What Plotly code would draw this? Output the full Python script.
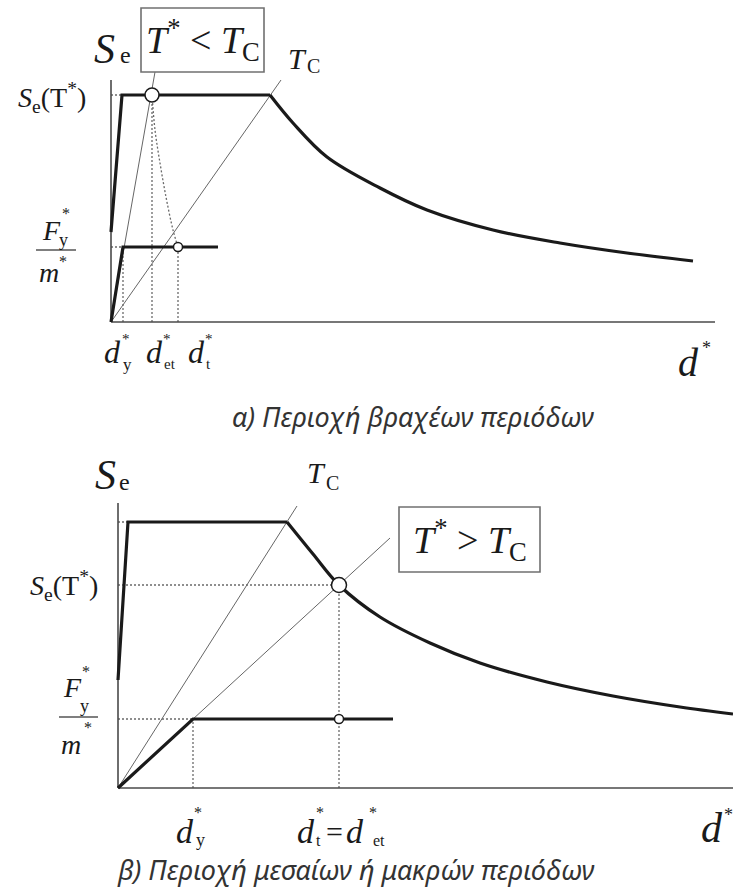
import plotly.graph_objects as go

W, H = 733, 888
SERIF = "Liberation Serif"
SANS = "Noto Sans"
INK = "#1a1a1a"
GREY = "#666666"
AXIS = "#4a4a4a"

# ---------------- panel (a): short periods, T* < TC ----------------
a_spec_d = [0.00, 0.11, 1.59]                      # rising branch + plateau
a_spec_se = [0.90, 2.27, 2.27]
a_decay_d = [1.59, 1.82, 2.16, 2.69, 3.16, 3.82, 4.49, 5.16, 5.82]
a_decay_se = [2.27, 1.99, 1.65, 1.34, 1.12, 0.92, 0.79, 0.69, 0.61]
a_cap_d = [0.00, 0.12, 1.07]                       # idealised bilinear capacity
a_cap_se = [0.00, 0.75, 0.75]
a_dy, a_det, a_dt = 0.12, 0.41, 0.67
a_se_t, a_fy = 2.27, 0.75
a_link_d = [0.41, 0.44, 0.49, 0.55, 0.62, 0.67]
a_link_se = [2.27, 1.92, 1.59, 1.25, 0.92, 0.75]
a_tstar_d, a_tstar_se = [0.00, 0.44], [0.00, 2.50]
a_tc_d, a_tc_se = [0.00, 1.70], [0.00, 2.42]
a_axis_d, a_axis_se = 6.04, 2.42
a_box = (0.30, 2.50, 1.53, 3.14)

# ---------------- panel (b): medium / long periods, T* > TC ----------------
b_spec_d = [0.00, 0.10, 1.69]
b_spec_se = [1.08, 2.66, 2.66]
b_decay_d = [1.69, 1.95, 2.21, 2.62, 3.12, 3.62, 4.29, 4.95, 5.62, 6.15]
b_decay_se = [2.66, 2.34, 2.03, 1.71, 1.45, 1.25, 1.06, 0.92, 0.81, 0.74]
b_cap_d = [0.00, 0.75, 2.75]
b_cap_se = [0.00, 0.69, 0.69]
b_dy, b_dt = 0.75, 2.21
b_se_t, b_fy, b_se_max = 2.03, 0.69, 2.66
b_tstar_d, b_tstar_se = [0.00, 2.72], [0.00, 2.50]
b_tc_d, b_tc_se = [0.00, 1.79], [0.00, 2.82]
b_axis_d, b_axis_se = 6.15, 2.85
b_box = (2.81, 2.16, 4.22, 2.81)

caption_a = "α) Περιοχή βραχέων περιόδων"
caption_b = "β) Περιοχή μεσαίων ή μακρών περιόδων"

fig = go.Figure()


def line(xs, ys, panel, color=INK, width=3.2, dash=None, shape="linear"):
    fig.add_trace(go.Scatter(
        x=xs, y=ys, mode="lines", xaxis="x" if panel == 1 else "x2",
        yaxis="y" if panel == 1 else "y2",
        line=dict(color=color, width=width, dash=dash, shape=shape),
        hoverinfo="skip"))


def dots(xs, ys, panel, shape="linear"):
    line(xs, ys, panel, color="#6a6a6a", width=1.3, dash="2px,2px", shape=shape)


def ring(x, y, panel, size):
    fig.add_trace(go.Scatter(
        x=[x], y=[y], mode="markers", xaxis="x" if panel == 1 else "x2",
        yaxis="y" if panel == 1 else "y2",
        marker=dict(symbol="circle", size=size, color="white",
                    line=dict(color=INK, width=1.5)),
        hoverinfo="skip"))


# panel (a)
dots([0, a_dy], [a_fy, a_fy], 1)
dots([a_dy, a_dy], [0, a_fy], 1)
dots([0, a_spec_d[1]], [a_se_t, a_se_t], 1)
dots([a_det, a_det], [0, a_se_t], 1)
dots([a_dt, a_dt], [0, a_fy], 1)
dots(a_link_d, a_link_se, 1, shape="spline")
line(a_tstar_d, a_tstar_se, 1, color=GREY, width=1)
line(a_tc_d, a_tc_se, 1, color=GREY, width=1)
line([0, 0], [0, a_axis_se], 1, color=AXIS, width=1.6)
line([0, a_axis_d], [0, 0], 1, color=AXIS, width=1.6)
line(a_spec_d, a_spec_se, 1)
line(a_decay_d, a_decay_se, 1, shape="spline")
line(a_cap_d, a_cap_se, 1)
ring(a_dt, a_fy, 1, 9)
ring(a_det, a_se_t, 1, 14)

# panel (b)
dots([0, b_spec_d[1]], [b_se_max, b_se_max], 2)
dots([0, b_dt], [b_se_t, b_se_t], 2)
dots([b_dt, b_dt], [0, b_se_t], 2)
dots([0, b_dy], [b_fy, b_fy], 2)
dots([b_dy, b_dy], [0, b_fy], 2)
line(b_tstar_d, b_tstar_se, 2, color=GREY, width=1)
line(b_tc_d, b_tc_se, 2, color=GREY, width=1)
line([0, 0], [0, b_axis_se], 2, color=AXIS, width=1.6)
line([0, b_axis_d], [0, 0], 2, color=AXIS, width=1.6)
line(b_spec_d, b_spec_se, 2)
line(b_decay_d, b_decay_se, 2, shape="spline")
line(b_cap_d, b_cap_se, 2)
ring(b_dt, b_fy, 2, 9)
ring(b_dt, b_se_t, 2, 15)

ann = []
shapes = []


def txt(x, y, s, size, panel, anchor="center", family=SERIF, color=INK, italic=False):
    if panel == 0:
        xref, yref = "paper", "paper"
    else:
        xref, yref = ("x", "y") if panel == 1 else ("x2", "y2")
    ann.append(dict(
        x=x, y=y, xref=xref, yref=yref,
        text=s, showarrow=False, xanchor=anchor, yanchor="middle",
        font=dict(family=family, size=size, color=color,
                  style="italic" if italic else "normal")))


def box(rect, panel):
    x0, y0, x1, y1 = rect
    shapes.append(dict(type="rect", xref="x" if panel == 1 else "x2",
                       yref="y" if panel == 1 else "y2", x0=x0, y0=y0, x1=x1, y1=y1,
                       line=dict(color="#707070", width=1.6), fillcolor="rgba(0,0,0,0)"))


def bar(x0, x1, y, panel):
    shapes.append(dict(type="line", xref="x" if panel == 1 else "x2",
                       yref="y" if panel == 1 else "y2", x0=x0, x1=x1, y0=y, y1=y,
                       line=dict(color="#555555", width=1.3)))


# ---- labels, panel (a)
txt(-0.07, 2.73, "S", 42, 1, italic=True)
txt(0.14, 2.67, "e", 24, 1)
txt(-0.23, 2.25, "<i>S</i><sub>e</sub>(T<sup>*</sup>)", 28, 1, anchor="right")
txt(1.86, 2.64, "T", 30, 1, italic=True)
txt(2.02, 2.56, "C", 20, 1)
box(a_box, 1)
txt((a_box[0] + a_box[2]) / 2, (a_box[1] + a_box[3]) / 2,
    "<i>T</i><sup>*</sup> &lt; <i>T</i><sub>C</sub>", 38, 1)
txt(-0.60, 0.92, "F", 28, 1, italic=True)
txt(-0.45, 1.09, "*", 16, 1)
txt(-0.48, 0.82, "y", 18, 1)
bar(-0.75, -0.35, 0.72, 1)
txt(-0.62, 0.50, "m", 28, 1, italic=True)
txt(-0.48, 0.61, "*", 16, 1)
# tick labels
txt(0.01, -0.30, "d", 32, 1, italic=True)
txt(0.15, -0.17, "*", 15, 1)
txt(0.16, -0.42, "y", 17, 1)
txt(0.43, -0.30, "d", 32, 1, italic=True)
txt(0.56, -0.17, "*", 15, 1)
txt(0.59, -0.42, "et", 15, 1)
txt(0.85, -0.30, "d", 32, 1, italic=True)
txt(0.98, -0.17, "*", 15, 1)
txt(0.97, -0.42, "t", 15, 1)
txt(5.77, -0.40, "d", 40, 1, italic=True)
txt(5.95, -0.26, "*", 18, 1)
txt(413 / W, 1 - 416 / H, caption_a, 27, 0, family=SANS, color="#333333", italic=True)

# ---- labels, panel (b)
txt(-0.13, 3.13, "S", 42, 2, italic=True)
txt(0.065, 3.06, "e", 24, 2)
txt(1.98, 3.16, "T", 30, 2, italic=True)
txt(2.14, 3.05, "C", 20, 2)
txt(-0.18, 2.03, "<i>S</i><sub>e</sub>(T<sup>*</sup>)", 28, 2, anchor="right")
box(b_box, 2)
txt((b_box[0] + b_box[2]) / 2, (b_box[1] + b_box[3]) / 2,
    "<i>T</i><sup>*</sup> &gt; <i>T</i><sub>C</sub>", 38, 2)
txt(-0.46, 1.01, "F", 28, 2, italic=True)
txt(-0.32, 1.17, "*", 16, 2)
txt(-0.34, 0.82, "y", 18, 2)
bar(-0.59, -0.20, 0.71, 2)
txt(-0.47, 0.44, "m", 28, 2, italic=True)
txt(-0.30, 0.61, "*", 16, 2)
txt(b_dy - 0.08, -0.43, "d", 34, 2, italic=True)
txt(b_dy + 0.05, -0.24, "*", 16, 2)
txt(b_dy + 0.07, -0.52, "y", 18, 2)
txt(1.88, -0.43, "d", 34, 2, italic=True)
txt(2.02, -0.24, "*", 16, 2)
txt(2.00, -0.52, "t", 16, 2)
txt(2.16, -0.43, "=", 30, 2)
txt(2.37, -0.43, "d", 34, 2, italic=True)
txt(2.55, -0.24, "*", 16, 2)
txt(2.61, -0.52, "et", 16, 2)
txt(5.94, -0.40, "d", 42, 2, italic=True)
txt(6.10, -0.27, "*", 18, 2)
txt(356 / W, 1 - 869 / H, caption_b, 27, 0, family=SANS, color="#333333", italic=True)

split = 400 / H
fig.update_layout(
    width=W, height=H, autosize=False,
    margin=dict(l=0, r=0, t=0, b=0, pad=0),
    paper_bgcolor="white", plot_bgcolor="white", showlegend=False,
    xaxis=dict(domain=[0, 1], range=[-1.11, 6.22], visible=False, anchor="y", fixedrange=True),
    yaxis=dict(domain=[1 - split, 1], range=[-0.78, 3.22], visible=False, anchor="x", fixedrange=True),
    xaxis2=dict(domain=[0, 1], range=[-1.18, 6.15], visible=False, anchor="y2", fixedrange=True),
    yaxis2=dict(domain=[0, 1 - split], range=[-1.00, 3.88], visible=False, anchor="x2", fixedrange=True),
    annotations=ann, shapes=shapes,
)

fig.write_html("out.html")
